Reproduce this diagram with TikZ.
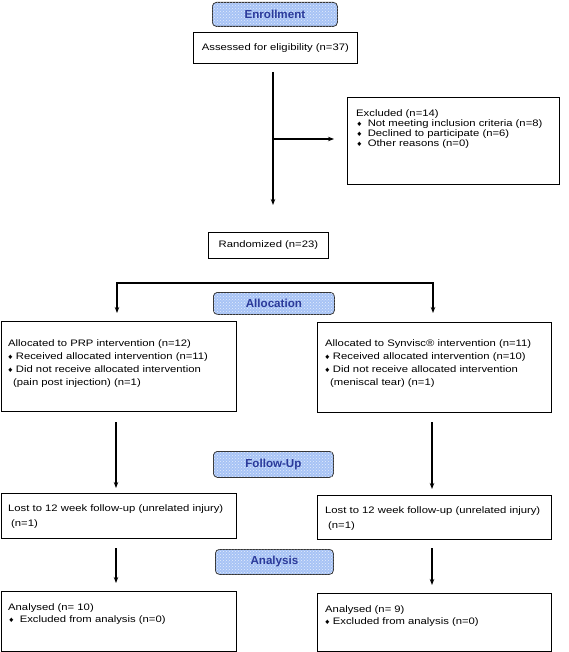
\documentclass[tikz,border=0pt]{standalone}
\usepackage{fontspec}
\setmainfont[FakeStretch=1.2]{Liberation Sans}
\newfontfamily\phasefont{Liberation Sans}
\usetikzlibrary{arrows.meta,patterns}
\definecolor{phasefill}{HTML}{A7C3F5}
\definecolor{phasetext}{HTML}{2B3A9A}
\newcommand\mydia{\scalebox{0.8}{♦}}
\begin{document}
\begin{tikzpicture}[x=1pt,y=-1pt,
  box/.style={draw=black, line width=0.8pt, inner sep=0pt, anchor=north west, font=\fontsize{9.4}{13}\selectfont},
  phase/.style={draw=black!80, fill=phasefill, rounded corners=4pt, line width=0.8pt,
     postaction={pattern=crosshatch dots, pattern color=white!70!phasefill},
     font=\phasefont\fontsize{11.6}{13}\selectfont\bfseries, text=phasetext, anchor=north west, inner sep=0pt},
  txt/.style={anchor=north west, align=left, inner sep=0pt, font=\fontsize{9.4}{13.3}\selectfont},
  arr/.style={line width=1.3pt, -{Stealth[length=6pt,width=4.5pt]}},
  arr2/.style={line width=1.3pt, {Stealth[length=6pt,width=4.5pt]}-{Stealth[length=6pt,width=4.5pt]}}]
\useasboundingbox (0,0) rectangle (568,652);

% phase headers
\node[phase, minimum width=125pt, minimum height=24pt] (enr) at (212,2) {Enrollment};
\node[phase, minimum width=121pt, minimum height=22pt] (alc) at (213,292) {Allocation};
\node[phase, minimum width=120pt, minimum height=26pt] (fup) at (213,451) {Follow-Up};
\node[phase, minimum width=118pt, minimum height=25pt] (ana) at (215,549) {Analysis};

% boxes
\node[box, minimum width=164pt, minimum height=31pt] (ass) at (193,32) {Assessed for eligibility (n=37)};
\node[box, minimum width=212pt, minimum height=87pt] (exc) at (347,97) {};
\node[txt, font=\fontsize{9.4}{10.3}\selectfont] (exct) at (356,109)
  {Excluded (n=14)\\
   \hspace*{1pt}\mydia\hspace{6pt}Not meeting inclusion criteria (n=8)\\
   \hspace*{1pt}\mydia\hspace{6pt}Declined to participate (n=6)\\
   \hspace*{1pt}\mydia\hspace{6pt}Other reasons (n=0)};
\node[box, minimum width=120pt, minimum height=26pt] (rnd) at (208,232) {Randomized (n=23)};

\node[box, minimum width=235pt, minimum height=90pt] (prp) at (0.5,321) {};
\node[txt] (prpt) at (8,339)
  {Allocated to PRP intervention (n=12)\\
   \mydia\ Received allocated intervention (n=11)\\
   \mydia\ Did not receive allocated intervention\\
   \hspace*{5pt}(pain post injection) (n=1)};
\node[box, minimum width=234pt, minimum height=90pt] (syn) at (317,322) {};
\node[txt] (synt) at (325,339)
  {Allocated to Synvisc® intervention (n=11)\\
   \mydia\ Received allocated intervention (n=10)\\
   \mydia\ Did not receive allocated intervention\\
   \hspace*{5pt}(meniscal tear) (n=1)};

\node[box, minimum width=235pt, minimum height=45pt] (lostl) at (0.5,493) {};
\node[txt, font=\fontsize{9.4}{15.5}\selectfont] (lostlt) at (8,504)
  {Lost to 12 week follow-up (unrelated injury)\\ \hspace*{3pt}(n=1)};
\node[box, minimum width=234pt, minimum height=44pt] (lostr) at (317,495) {};
\node[txt, font=\fontsize{9.4}{15.5}\selectfont] (lostrt) at (325,506)
  {Lost to 12 week follow-up (unrelated injury)\\ \hspace*{3pt}(n=1)};

\node[box, minimum width=235pt, minimum height=60pt] (anl) at (0.5,591) {};
\node[txt, font=\fontsize{9.4}{12.5}\selectfont] (anlt) at (8,603)
  {Analysed (n= 10)\\ \hspace*{1pt}\mydia\hspace{6pt}Excluded from analysis (n=0)};
\node[box, minimum width=234pt, minimum height=58pt] (anr) at (317,593) {};
\node[txt, font=\fontsize{9.4}{12.5}\selectfont] (anrt) at (325,605)
  {Analysed (n= 9)\\ \mydia\ Excluded from analysis (n=0)};

% connector points
\coordinate (v1a) at (273,72);
\coordinate (v1b) at (273,205);
\coordinate (v1m) at (273,139);
\coordinate (v1e) at (334,139);
\coordinate (sl) at (117,313);
\coordinate (slc) at (117,283);
\coordinate (src) at (433,283);
\coordinate (sr) at (433,313);
\coordinate (l1a) at (116,422);
\coordinate (l1b) at (116,488);
\coordinate (r1a) at (432,422);
\coordinate (r1b) at (432,489);
\coordinate (l2a) at (116,548);
\coordinate (l2b) at (116,583);
\coordinate (r2a) at (432,548);
\coordinate (r2b) at (432,585);

\draw[arr] (v1a) -- (v1b);
\draw[arr] (v1m) -- (v1e);
\draw[arr2] (sl) -- (slc) -- (src) -- (sr);
\draw[arr] (l1a) -- (l1b);
\draw[arr] (r1a) -- (r1b);
\draw[arr] (l2a) -- (l2b);
\draw[arr] (r2a) -- (r2b);
\end{tikzpicture}
\end{document}
